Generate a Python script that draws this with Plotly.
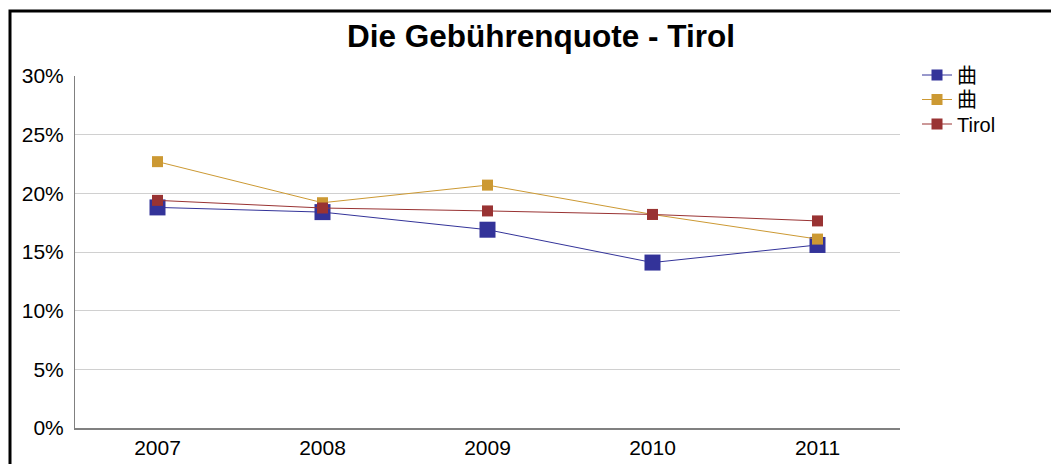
import plotly.graph_objects as go

years = ["2007", "2008", "2009", "2010", "2011"]
series_names = ["曲", "曲", "Tirol"]
blue_vals = [0.188, 0.184, 0.169, 0.141, 0.156]
gold_vals = [0.227, 0.192, 0.207, 0.182, 0.161]
red_vals = [0.194, 0.1875, 0.185, 0.182, 0.1765]
y_ticks = [0, 0.05, 0.10, 0.15, 0.20, 0.25, 0.30]
y_tick_labels = ["0%", "5%", "10%", "15%", "20%", "25%", "30%"]

colors = ["#333399", "#CC9933", "#993333"]
sizes = [16, 11, 11]
data = [blue_vals, gold_vals, red_vals]
legend_ids = ["legend", "legend2", "legend3"]

fig = go.Figure()
for name, vals, c, s in zip(series_names, data, colors, sizes):
    fig.add_trace(go.Scatter(
        x=years, y=vals, name=name, mode="lines+markers", showlegend=False,
        line=dict(color=c, width=1),
        marker=dict(symbol="square", size=s, color=c),
    ))
for name, c, lg in zip(series_names, colors, legend_ids):
    fig.add_trace(go.Scatter(
        x=[None], y=[None], name=name, mode="lines+markers", showlegend=True, legend=lg,
        line=dict(color=c, width=1),
        marker=dict(symbol="square", size=11, color=c),
    ))

OFF = 8  # page body margin
W, H = 1059 - OFF, 464 - OFF
px0, px1 = 75 - OFF, 900 - OFF
py0, py1 = 76 - OFF, 428 - OFF
l, r, t, b = px0, W - px1, py0, H - py1
pw, ph = px1 - px0, py1 - py0

FONT = "Liberation Sans, Arial, sans-serif"
legend_common = dict(xanchor="left", yanchor="middle",
                     font=dict(size=20, family="Liberation Sans, Noto Sans CJK SC, sans-serif"),
                     itemwidth=30, bgcolor="rgba(0,0,0,0)")
legend_centers = [75, 99.5, 124]

layout_kwargs = {}
for lg, yc in zip(legend_ids, legend_centers):
    layout_kwargs[lg] = dict(x=(917 - OFF - l) / pw, y=(py1 - (yc - OFF)) / ph, **legend_common)

fig.update_layout(
    width=W, height=H,
    margin=dict(l=l, r=r, t=t, b=b, autoexpand=False),
    paper_bgcolor="white", plot_bgcolor="white",
    font=dict(family=FONT, color="black", size=21),
    title=dict(text="<b>Die Gebührenquote - Tirol</b>", x=(541 - OFF - l) / pw, xref="paper", xanchor="center",
               y=1 - (36 - OFF) / H, yanchor="middle", font=dict(size=31.5, family=FONT)),
    showlegend=True,
    xaxis=dict(type="category", range=[-0.5, 4.5], showline=True, linecolor="#808080", linewidth=2,
               showgrid=False, ticks="", tickfont=dict(size=21), zeroline=False, automargin=False),
    yaxis=dict(range=[0, 0.30], tickvals=y_ticks, ticktext=y_tick_labels, showline=True,
               linecolor="#808080", linewidth=1, showgrid=True, gridcolor="#D0D0D0", gridwidth=1,
               ticks="", tickfont=dict(size=21), zeroline=False, automargin=False,
               ticklabelstandoff=6),
    **layout_kwargs,
)

fig.add_shape(type="rect", xref="paper", yref="paper",
              x0=(10 - OFF - l) / pw, x1=(W + 20 - l) / pw,
              y0=-(H + 20 - py1) / ph, y1=(py1 - (11 - OFF)) / ph,
              line=dict(color="black", width=3), fillcolor="rgba(0,0,0,0)", layer="below")

fig.write_html("out.html")
